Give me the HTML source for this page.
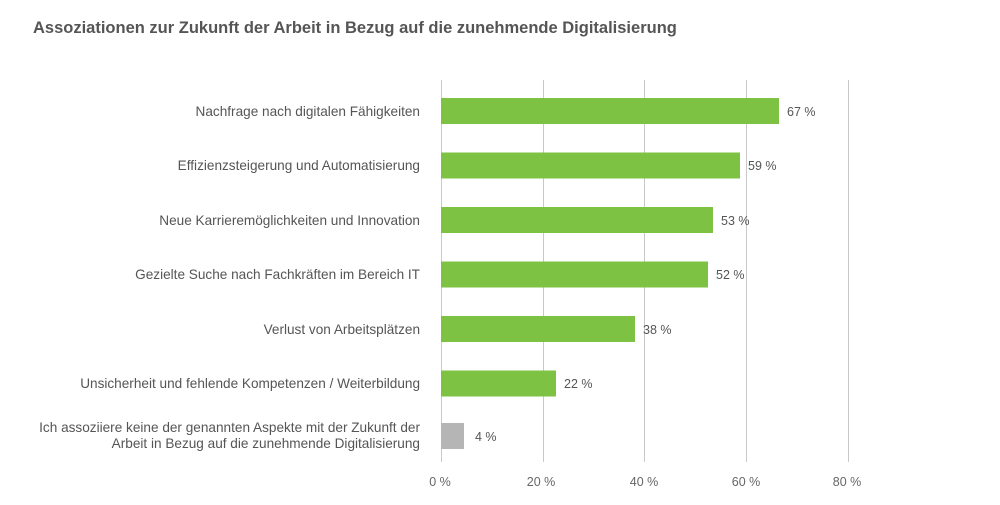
<!DOCTYPE html>
<html><head><meta charset="utf-8"><style>
body{margin:0;background:#fff;width:1000px;height:500px;overflow:hidden;font-family:"Liberation Sans",sans-serif;}
</style></head><body>
<svg width="1000" height="500" xmlns="http://www.w3.org/2000/svg" font-family="Liberation Sans, sans-serif">
<text x="33" y="33" font-size="16.5" font-weight="bold" fill="#555">Assoziationen zur Zukunft der Arbeit in Bezug auf die zunehmende Digitalisierung</text>
<g stroke="#c8c8c8" stroke-width="1">
<line x1="441.5" y1="80" x2="441.5" y2="462"/>
<line x1="543.5" y1="80" x2="543.5" y2="462"/>
<line x1="644.5" y1="80" x2="644.5" y2="462"/>
<line x1="746.5" y1="80" x2="746.5" y2="462"/>
<line x1="848.5" y1="80" x2="848.5" y2="462"/>
</g>
<g fill="#7dc242">
<rect x="441" y="98" width="338" height="26"/>
<rect x="441" y="152.5" width="299" height="26"/>
<rect x="441" y="207" width="272" height="26"/>
<rect x="441" y="261.5" width="267" height="26"/>
<rect x="441" y="316" width="194" height="26"/>
<rect x="441" y="370.5" width="115" height="26"/>
</g>
<rect x="441" y="423" width="23" height="26" fill="#b5b5b5"/>
<g font-size="13.6" fill="#555" text-anchor="end">
<text x="420" y="116">Nachfrage nach digitalen Fähigkeiten</text>
<text x="420" y="170">Effizienzsteigerung und Automatisierung</text>
<text x="420" y="225">Neue Karrieremöglichkeiten und Innovation</text>
<text x="420" y="279">Gezielte Suche nach Fachkräften im Bereich IT</text>
<text x="420" y="334">Verlust von Arbeitsplätzen</text>
<text x="420" y="388">Unsicherheit und fehlende Kompetenzen / Weiterbildung</text>
<text x="420" y="432">Ich assoziiere keine der genannten Aspekte mit der Zukunft der</text>
<text x="420" y="448">Arbeit in Bezug auf die zunehmende Digitalisierung</text>
</g>
<g font-size="12.5" fill="#555">
<text x="787" y="116">67 %</text>
<text x="748" y="170">59 %</text>
<text x="721" y="225">53 %</text>
<text x="716" y="279">52 %</text>
<text x="643" y="334">38 %</text>
<text x="564" y="388">22 %</text>
<text x="475" y="441">4 %</text>
</g>
<g font-size="12.5" fill="#666" text-anchor="middle">
<text x="440" y="486">0 %</text>
<text x="541" y="486">20 %</text>
<text x="644" y="486">40 %</text>
<text x="746" y="486">60 %</text>
<text x="847" y="486">80 %</text>
</g>
</svg>
</body></html>
